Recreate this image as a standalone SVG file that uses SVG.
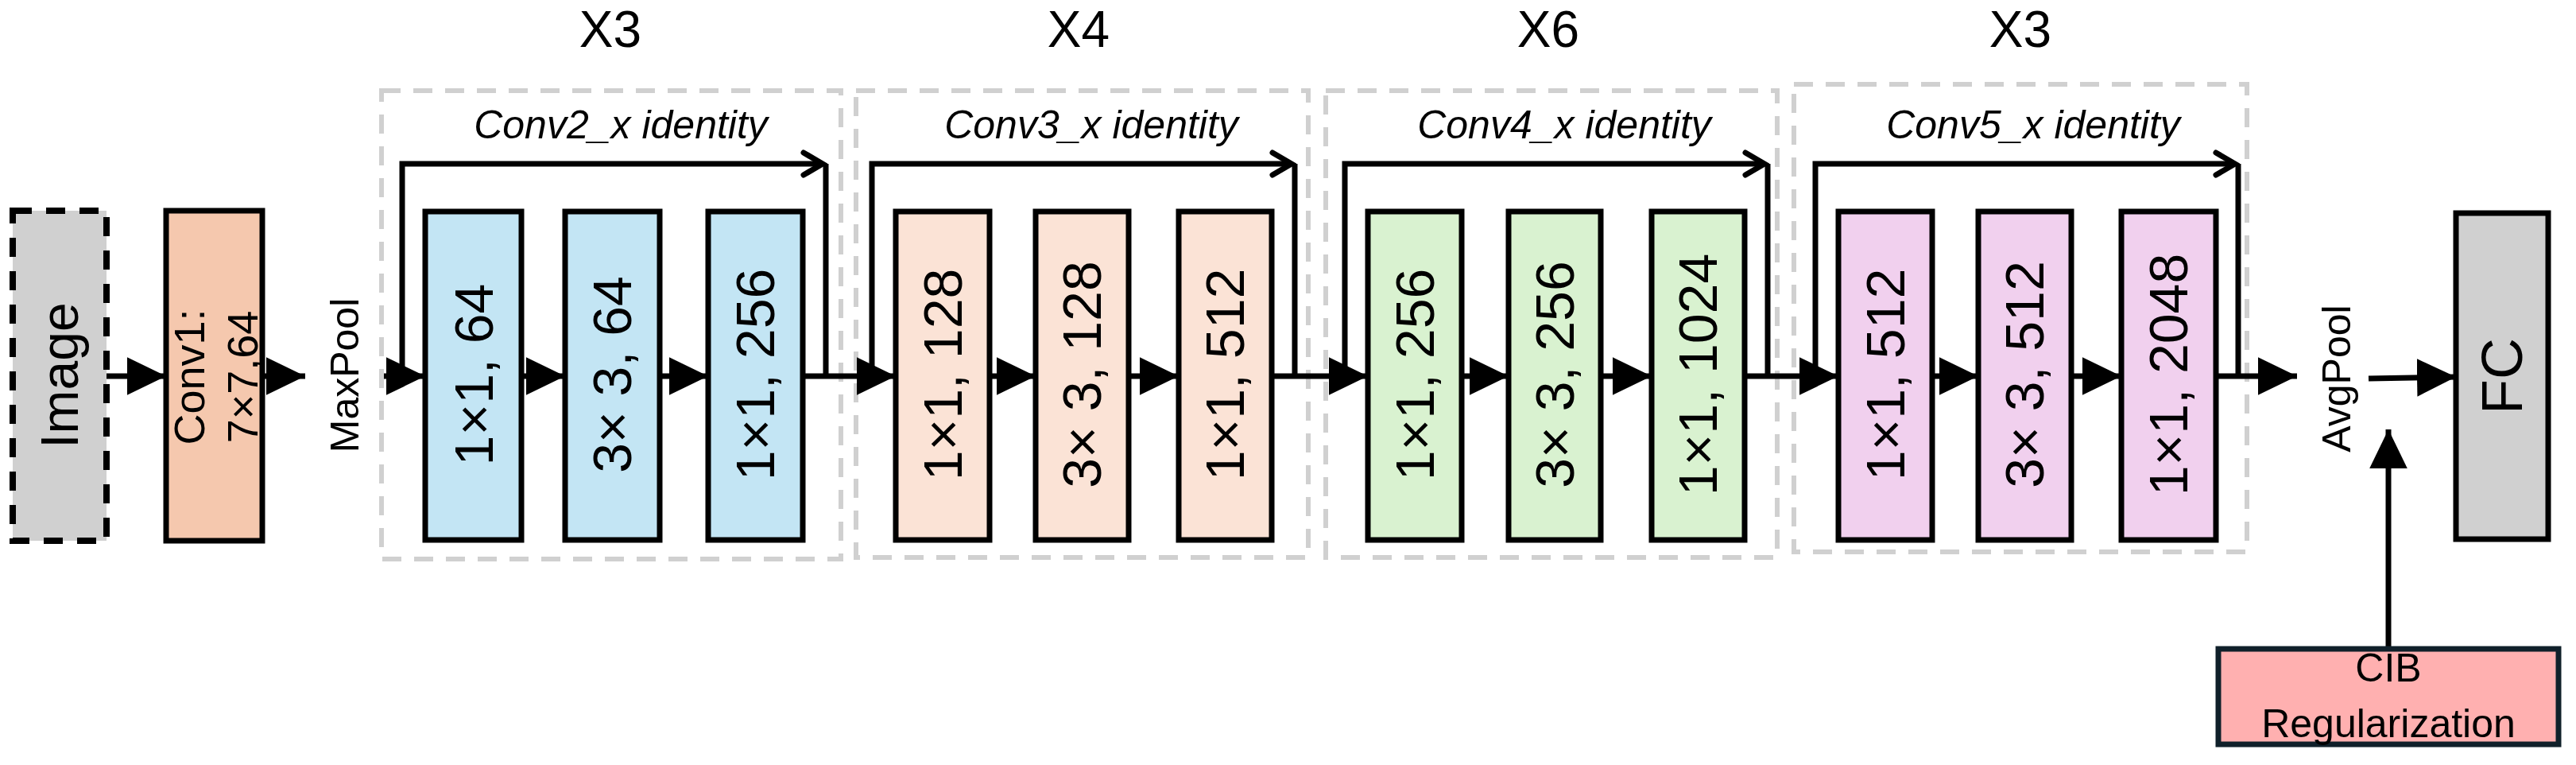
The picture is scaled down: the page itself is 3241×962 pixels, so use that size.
<svg xmlns="http://www.w3.org/2000/svg" width="3241" height="962" viewBox="0 0 3241 962">
<style>
text{font-family:"Liberation Sans",Arial,sans-serif;fill:#000}
.box{stroke:#000;stroke-width:7}
.grp{fill:none;stroke:#d0d0d0;stroke-width:6;stroke-dasharray:24 16}
.ln{fill:none;stroke:#000;stroke-width:7}
.lbl{font-size:68px;text-anchor:middle;dominant-baseline:central}
.ttl{font-size:64px;text-anchor:middle}
.idl{font-size:50px;font-style:italic;text-anchor:middle}
.b{fill:#c3e5f4}.o{fill:#fbe3d6}.g{fill:#d9f2d0}.p{fill:#f1d0ee}
</style>
<defs>
<marker id="fa" markerWidth="8" markerHeight="8" refX="7" refY="4" orient="auto" markerUnits="strokeWidth"><path d="M0,0.6 L7,4 L0,7.4 Z" fill="#000"/></marker>
<marker id="oa" markerWidth="12" markerHeight="12" refX="9" refY="6" orient="auto" markerUnits="userSpaceOnUse" viewBox="0 0 12 12"><path d="M2,1 L9,6 L2,11" fill="none" stroke="#000" stroke-width="1.4"/></marker>
<marker id="ob" markerWidth="40" markerHeight="40" refX="34" refY="20" orient="auto" markerUnits="userSpaceOnUse"><path d="M10,6 L34,20 L10,34" fill="none" stroke="#000" stroke-width="7" stroke-linecap="round"/></marker>
</defs>

<g id="groups">
<rect class="grp" x="480" y="114" width="578" height="589"/>
<rect class="grp" x="1077" y="114" width="569" height="587"/>
<rect class="grp" x="1668" y="114" width="568" height="587"/>
<rect class="grp" x="2257" y="106" width="570" height="588"/>
<text class="ttl" x="768" y="59">X3</text>
<text class="ttl" x="1357" y="59">X4</text>
<text class="ttl" x="1948" y="59">X6</text>
<text class="ttl" x="2542" y="59">X3</text>
<text class="idl" x="781" y="174">Conv2_x identity</text>
<text class="idl" x="1373" y="174">Conv3_x identity</text>
<text class="idl" x="1968" y="174">Conv4_x identity</text>
<text class="idl" x="2558" y="174">Conv5_x identity</text>
</g>

<g id="connectors">
<line class="ln" x1="134" y1="473" x2="209" y2="473" marker-end="url(#fa)"/>
<line class="ln" x1="330" y1="473" x2="384" y2="473" marker-end="url(#fa)"/>
<line class="ln" x1="483" y1="473" x2="535" y2="473" marker-end="url(#fa)"/>
<line class="ln" x1="656" y1="473" x2="711" y2="473" marker-end="url(#fa)"/>
<line class="ln" x1="830" y1="473" x2="891" y2="473" marker-end="url(#fa)"/>
<polyline class="ln" points="506,473 506,206 1035,206" marker-end="url(#ob)"/>
<line class="ln" x1="1039" y1="206" x2="1039" y2="473"/>
<line class="ln" x1="1010" y1="473" x2="1127" y2="473" marker-end="url(#fa)"/>
<line class="ln" x1="1245" y1="473" x2="1303" y2="473" marker-end="url(#fa)"/>
<line class="ln" x1="1420" y1="473" x2="1483" y2="473" marker-end="url(#fa)"/>
<polyline class="ln" points="1097,473 1097,206 1625,206" marker-end="url(#ob)"/>
<line class="ln" x1="1629" y1="206" x2="1629" y2="473"/>
<line class="ln" x1="1600" y1="473" x2="1721" y2="473" marker-end="url(#fa)"/>
<line class="ln" x1="1839" y1="473" x2="1898" y2="473" marker-end="url(#fa)"/>
<line class="ln" x1="2014" y1="473" x2="2078" y2="473" marker-end="url(#fa)"/>
<polyline class="ln" points="1692,473 1692,206 2220,206" marker-end="url(#ob)"/>
<line class="ln" x1="2224" y1="206" x2="2224" y2="473"/>
<line class="ln" x1="2195" y1="473" x2="2313" y2="473" marker-end="url(#fa)"/>
<line class="ln" x1="2431" y1="473" x2="2489" y2="473" marker-end="url(#fa)"/>
<line class="ln" x1="2606" y1="473" x2="2669" y2="473" marker-end="url(#fa)"/>
<polyline class="ln" points="2284,473 2284,206 2812,206" marker-end="url(#ob)"/>
<line class="ln" x1="2816" y1="206" x2="2816" y2="473"/>
<line class="ln" x1="2788" y1="473" x2="2890" y2="473" marker-end="url(#fa)"/>
<line class="ln" x1="2980" y1="476" x2="3090" y2="474" marker-end="url(#fa)"/>
<line class="ln" x1="3005" y1="814" x2="3005" y2="540" marker-end="url(#fa)"/>
</g>

<g id="image"><rect x="16" y="265" width="118" height="415" fill="#d0d0d0" stroke="#000" stroke-width="8" stroke-dasharray="24 18"/>
<text class="lbl" font-size="66" transform="translate(75,472) rotate(-90)" style="font-size:66px">Image</text></g>
<g id="conv1"><rect class="box" x="209" y="265" width="121" height="415" fill="#f5c8ae"/>
<text class="lbl" transform="translate(238,474) rotate(-90)" style="font-size:54px">Conv1:</text>
<text class="lbl" transform="translate(305,474) rotate(-90)" style="font-size:54px">7×7,64</text></g>
<g id="maxpool"><text class="lbl" transform="translate(434,472) rotate(-90)" style="font-size:50px">MaxPool</text></g>

<g id="c2a"><rect class="box b" x="535" y="266" width="121" height="413"/><text class="lbl" transform="translate(596,471) rotate(-90)">1×1, 64</text></g>
<g id="c2b"><rect class="box b" x="711" y="266" width="119" height="413"/><text class="lbl" transform="translate(770,471) rotate(-90)">3× 3, 64</text></g>
<g id="c2c"><rect class="box b" x="891" y="266" width="119" height="413"/><text class="lbl" transform="translate(950,471) rotate(-90)">1×1, 256</text></g>

<g id="c3a"><rect class="box o" x="1127" y="266" width="118" height="413"/><text class="lbl" transform="translate(1186,471) rotate(-90)">1×1, 128</text></g>
<g id="c3b"><rect class="box o" x="1303" y="266" width="117" height="413"/><text class="lbl" transform="translate(1361,471) rotate(-90)">3× 3, 128</text></g>
<g id="c3c"><rect class="box o" x="1483" y="266" width="117" height="413"/><text class="lbl" transform="translate(1541,471) rotate(-90)">1×1, 512</text></g>

<g id="c4a"><rect class="box g" x="1721" y="266" width="118" height="413"/><text class="lbl" transform="translate(1780,471) rotate(-90)">1×1, 256</text></g>
<g id="c4b"><rect class="box g" x="1898" y="266" width="116" height="413"/><text class="lbl" transform="translate(1956,471) rotate(-90)">3× 3, 256</text></g>
<g id="c4c"><rect class="box g" x="2078" y="266" width="117" height="413"/><text class="lbl" transform="translate(2136,471) rotate(-90)">1×1, 1024</text></g>

<g id="c5a"><rect class="box p" x="2313" y="266" width="118" height="413"/><text class="lbl" transform="translate(2372,471) rotate(-90)">1×1, 512</text></g>
<g id="c5b"><rect class="box p" x="2489" y="266" width="117" height="413"/><text class="lbl" transform="translate(2547,471) rotate(-90)">3× 3, 512</text></g>
<g id="c5c"><rect class="box p" x="2669" y="266" width="119" height="413"/><text class="lbl" transform="translate(2728,471) rotate(-90)">1×1, 2048</text></g>

<g id="avgpool"><text class="lbl" transform="translate(2940,476) rotate(-90)" style="font-size:50px">AvgPool</text></g>
<g id="fc"><rect class="box" x="3090" y="268" width="116" height="410" fill="#d0d0d0"/>
<text class="lbl" transform="translate(3148,473) rotate(-90)" style="font-size:72px">FC</text></g>
<g id="cib"><rect x="2791" y="816" width="428" height="120" fill="#ffb0b0" stroke="#10202a" stroke-width="7"/>
<text x="3005" y="857" text-anchor="middle" style="font-size:50px">CIB</text>
<text x="3005" y="927" text-anchor="middle" style="font-size:50px">Regularization</text></g>
</svg>
